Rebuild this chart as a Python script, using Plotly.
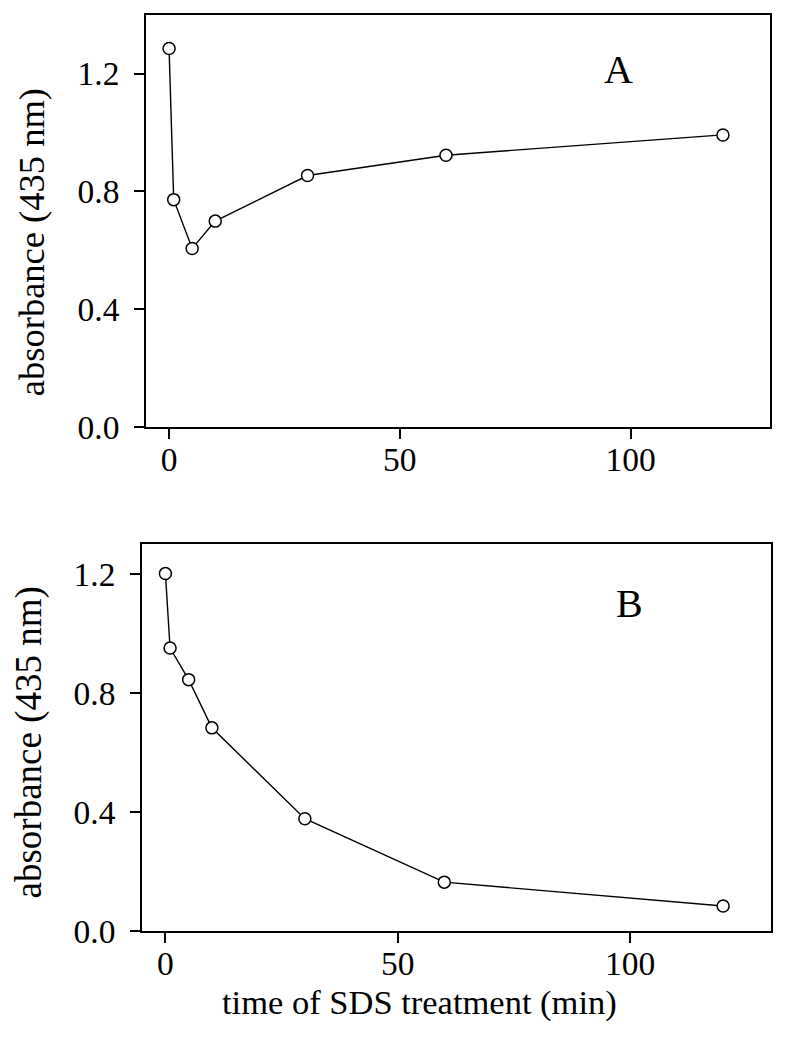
import plotly.graph_objects as go

# ---- data ----
time_a = [0, 1, 5, 10, 30, 60, 120]
absorb_a = [1.286, 0.772, 0.606, 0.699, 0.854, 0.923, 0.992]

time_b = [0, 1, 5, 10, 30, 60, 120]
absorb_b = [1.201, 0.951, 0.845, 0.683, 0.378, 0.165, 0.085]

x_ticks = [0, 50, 100]
y_ticks = [0.0, 0.4, 0.8, 1.2]
y_tick_text = ["0.0", "0.4", "0.8", "1.2"]

panel_labels = ["A", "B"]
y_title = "absorbance (435 nm)"
x_title = "time of SDS treatment (min)"

FONT = "Liberation Serif, Times New Roman, serif"
W, H = 786, 1050
OFF = 8  # default page margin of the HTML body


def px(p):
    return (p - OFF) / W


def py(p):
    return 1 - (p - OFF) / H


fig = go.Figure()

marker = dict(symbol="circle", size=12, color="white", line=dict(color="black", width=1.5))

fig.add_trace(go.Scatter(x=time_a, y=absorb_a, mode="lines+markers",
                         line=dict(color="black", width=1.4), marker=marker,
                         xaxis="x", yaxis="y", showlegend=False, cliponaxis=False))
fig.add_trace(go.Scatter(x=time_b, y=absorb_b, mode="lines+markers",
                         line=dict(color="black", width=1.4), marker=marker,
                         xaxis="x2", yaxis="y2", showlegend=False, cliponaxis=False))

axis_common = dict(showline=True, linecolor="black", linewidth=1.8, mirror=True,
                   ticks="outside", ticklen=10, tickwidth=1.6, tickcolor="black",
                   showgrid=False, zeroline=False,
                   tickfont=dict(family=FONT, size=33.5, color="black"))
x_common = dict(tickvals=x_ticks, ticklabelstandoff=-8, **axis_common)
y_common = dict(tickvals=y_ticks, ticktext=y_tick_text, ticklabelstandoff=8, **axis_common)

fig.update_layout(
    width=W, height=H,
    paper_bgcolor="white", plot_bgcolor="white",
    margin=dict(l=0, r=0, t=0, b=0),
    font=dict(family=FONT, color="black"),
    xaxis=dict(domain=[px(146), px(770)], range=[-5.0, 130.2], anchor="y", **x_common),
    yaxis=dict(domain=[py(434.5), py(15)], range=[0, 1.4], anchor="x", **y_common),
    xaxis2=dict(domain=[px(142), px(771)], range=[-5.04, 130.3], anchor="y2", **x_common),
    yaxis2=dict(domain=[py(948.3), py(554)], range=[0, 1.30], anchor="x2", **y_common),
    annotations=[
        dict(text=panel_labels[0], x=97.4, y=1.213, xref="x", yref="y", showarrow=False,
             font=dict(family=FONT, size=40, color="black")),
        dict(text=panel_labels[1], x=99.8, y=1.102, xref="x2", yref="y2", showarrow=False,
             font=dict(family=FONT, size=40, color="black")),
        dict(text=y_title, textangle=-90, x=px(31), y=py(246.5), xref="paper", yref="paper",
             xanchor="center", yanchor="middle", showarrow=False,
             font=dict(family=FONT, size=36.5, color="black")),
        dict(text=y_title, textangle=-90, x=px(28.5), y=py(756.5), xref="paper", yref="paper",
             xanchor="center", yanchor="middle", showarrow=False,
             font=dict(family=FONT, size=37, color="black")),
        dict(text=x_title, x=px(419), y=py(1021), xref="paper", yref="paper",
             xanchor="center", yanchor="middle", showarrow=False,
             font=dict(family=FONT, size=34.5, color="black")),
    ],
)

fig.write_html("out.html")
